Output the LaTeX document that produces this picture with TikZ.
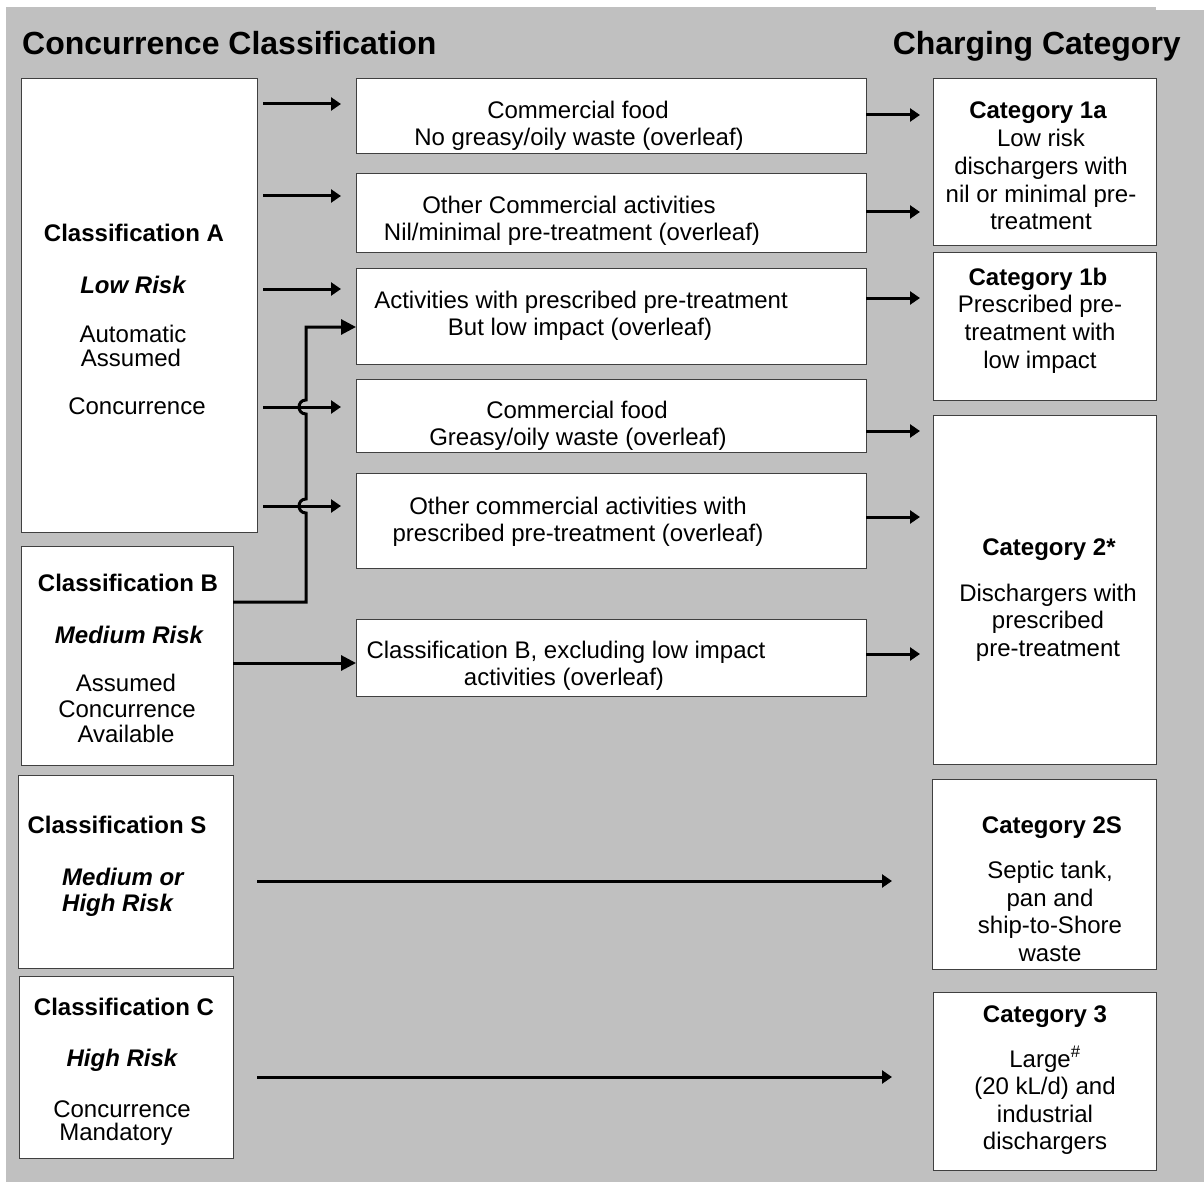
\documentclass[tikz,border=0pt]{standalone}
\usepackage{fontspec}
\setmainfont{Liberation Sans}
\usetikzlibrary{arrows.meta,calc}
\definecolor{bggray}{HTML}{C0C0C0}
\definecolor{boxline}{HTML}{404040}
\begin{document}
\begin{tikzpicture}[x=1pt,y=-1pt,
  box/.style={draw=boxline, line width=1pt, fill=white, anchor=north west, inner sep=0pt, outer sep=0pt},
  tx/.style={anchor=base, inner sep=0pt, font=\fontsize{24}{27}\selectfont},
  txb/.style={anchor=base, inner sep=0pt, font=\fontsize{24}{27}\selectfont\bfseries},
  txbi/.style={anchor=base, inner sep=0pt, font=\fontsize{24}{27}\selectfont\bfseries\itshape},
  hdr/.style={inner sep=0pt, font=\fontsize{32}{36}\selectfont\bfseries},
  arr/.style={line width=3pt, -{Triangle[length=10pt,width=13pt]}},
  bigarr/.style={line width=3pt, -{Triangle[length=15pt,width=15pt]}},
]
\useasboundingbox (0,0) rectangle (1204,1182);
\fill[white] (0,0) rectangle (1204,1182);
\fill[bggray] (6,7) rectangle (1204,1182);
\fill[white] (1156,7) rectangle (1204,10);

% headers
\node[hdr, anchor=base west] (h1) at (22,54.5) {Concurrence Classification};
\node[hdr, anchor=base east] (h2) at (1181,54.5) {Charging Category};

% left boxes
\node[box, minimum width=236pt, minimum height=453pt] (A) at (21,79) {};
\node[box, minimum width=212pt, minimum height=219pt] (B) at (21,546) {};
\node[box, minimum width=215pt, minimum height=193pt] (S) at (18,775) {};
\node[box, minimum width=214pt, minimum height=182pt] (C) at (19,976) {};

% middle boxes
\node[box, minimum width=510pt, minimum height=75pt] (M1) at (356,79) {};
\node[box, minimum width=510pt, minimum height=79pt] (M2) at (356,174) {};
\node[box, minimum width=510pt, minimum height=95pt] (M3) at (356,269) {};
\node[box, minimum width=510pt, minimum height=73pt] (M4) at (356,379) {};
\node[box, minimum width=510pt, minimum height=95pt] (M5) at (356,473) {};
\node[box, minimum width=510pt, minimum height=77pt] (M6) at (356,619) {};

% right boxes
\node[box, minimum width=223pt, minimum height=167pt] (K1a) at (933,79) {};
\node[box, minimum width=223pt, minimum height=147pt] (K1b) at (933,253) {};
\node[box, minimum width=223pt, minimum height=349pt] (K2) at (933,415) {};
\node[box, minimum width=224pt, minimum height=190pt] (K2S) at (932,779) {};
\node[box, minimum width=223pt, minimum height=178pt] (K3) at (933,992) {};

% texts: Classification A
\node[txb] (a1) at (134,242) {Classification A};
\node[txbi] (a2) at (133,293) {Low Risk};
\node[tx] (a3) at (133,342) {Automatic};
\node[tx] (a4) at (131,366) {Assumed};
\node[tx] (a5) at (137,414) {Concurrence};
% Classification B
\node[txb] (b1) at (128,591) {Classification B};
\node[txbi] (b2) at (129,643) {Medium Risk};
\node[tx] (b3) at (126,691) {Assumed};
\node[tx] (b4) at (127,717) {Concurrence};
\node[tx] (b5) at (126,742) {Available};
% Classification S
\node[txb] (s1) at (117,833) {Classification S};
\node[txbi, anchor=base west] (s2) at (62,885) {Medium or};
\node[txbi, anchor=base west] (s3) at (62,911) {High Risk};
% Classification C
\node[txb] (c1) at (124,1015) {Classification C};
\node[txbi] (c2) at (122,1066) {High Risk};
\node[tx] (c3) at (122,1117) {Concurrence};
\node[tx] (c4) at (116,1140) {Mandatory};

% middle texts
\node[tx] (m11) at (578,119) {Commercial food};
\node[tx] (m12) at (579,146) {No greasy/oily waste (overleaf)};
\node[tx] (m21) at (569,214) {Other Commercial activities};
\node[tx] (m22) at (572,241) {Nil/minimal pre-treatment (overleaf)};
\node[tx] (m31) at (581,308) {Activities with prescribed pre-treatment};
\node[tx] (m32) at (580,335) {But low impact (overleaf)};
\node[tx] (m41) at (577,418) {Commercial food};
\node[tx] (m42) at (578,445) {Greasy/oily waste (overleaf)};
\node[tx] (m51) at (578,514) {Other commercial activities with};
\node[tx] (m52) at (578,541) {prescribed pre-treatment (overleaf)};
\node[tx] (m61) at (566,658) {Classification B, excluding low impact};
\node[tx] (m62) at (564,685) {activities (overleaf)};

% right texts
\node[txb] (k11) at (1038,119) {Category 1a};
\node[tx] (k12) at (1041,147) {Low risk};
\node[tx] (k13) at (1041,175) {dischargers with};
\node[tx] (k14) at (1041,203) {nil or minimal pre-};
\node[tx] (k15) at (1041,230) {treatment};
\node[txb] (k21) at (1038,285) {Category 1b};
\node[tx] (k22) at (1040,312) {Prescribed pre-};
\node[tx] (k23) at (1040,340) {treatment with};
\node[tx] (k24) at (1040,368) {low impact};
\node[txb] (k31) at (1049,555) {Category 2*};
\node[tx] (k32) at (1048,601) {Dischargers with};
\node[tx] (k33) at (1048,628) {prescribed};
\node[tx] (k34) at (1048,656) {pre-treatment};
\node[txb] (k41) at (1052,833) {Category 2S};
\node[tx] (k42) at (1050,878) {Septic tank,};
\node[tx] (k43) at (1050,906) {pan and};
\node[tx] (k44) at (1050,933) {ship-to-Shore};
\node[tx] (k45) at (1050,961) {waste};
\node[txb] (k51) at (1045,1022) {Category 3};
\node[tx] (k52) at (1045,1067) {Large\textsuperscript{\#}};
\node[tx] (k53) at (1045,1094) {(20 kL/d) and};
\node[tx] (k54) at (1045,1122) {industrial};
\node[tx] (k55) at (1045,1149) {dischargers};

% arrow levels
\coordinate (y1) at (0,104);
\coordinate (y2) at (0,196);
\coordinate (y3) at (0,289);
\coordinate (y4) at (0,407);
\coordinate (y5) at (0,506);
\coordinate (r1) at (0,115);
\coordinate (r2) at (0,212);
\coordinate (r3) at (0,298);
\coordinate (r4) at (0,431);
\coordinate (r5) at (0,517);
\coordinate (r6) at (0,654);
\coordinate (ls) at (0,881);
\coordinate (lc) at (0,1077);
\coordinate (bm) at (0,663);
\coordinate (bj) at (306,602);
\coordinate (bt) at (306,327);
\coordinate (hA) at (306,407);
\coordinate (hB) at (306,506);

% B -> M3 elbow connector with hops
\draw[bigarr] (B.east |- bj) -- (bj)
  -- ($(hB)+(0,7)$) .. controls ($(hB)+(-9.3,7)$) and ($(hB)+(-9.3,-7)$) .. ($(hB)+(0,-7)$)
  -- ($(hA)+(0,7)$) .. controls ($(hA)+(-9.3,7)$) and ($(hA)+(-9.3,-7)$) .. ($(hA)+(0,-7)$)
  -- (bt) -- (M3.west |- bt);
\draw[bigarr] (B.east |- bm) -- (M6.west |- bm);

% A -> middle
\draw[arr, shorten <=6pt, shorten >=15pt] (A.east |- y1) -- (M1.west |- y1);
\draw[arr, shorten <=6pt, shorten >=15pt] (A.east |- y2) -- (M2.west |- y2);
\draw[arr, shorten <=6pt, shorten >=15pt] (A.east |- y3) -- (M3.west |- y3);
\draw[arr, shorten <=6pt, shorten >=15pt] (A.east |- y4) -- (M4.west |- y4);
\draw[arr, shorten <=6pt, shorten >=15pt] (A.east |- y5) -- (M5.west |- y5);

% middle -> right
\draw[arr, shorten >=13pt] (M1.east |- r1) -- (K1a.west |- r1);
\draw[arr, shorten >=13pt] (M2.east |- r2) -- (K1a.west |- r2);
\draw[arr, shorten >=13pt] (M3.east |- r3) -- (K1b.west |- r3);
\draw[arr, shorten >=13pt] (M4.east |- r4) -- (K2.west |- r4);
\draw[arr, shorten >=13pt] (M5.east |- r5) -- (K2.west |- r5);
\draw[arr, shorten >=13pt] (M6.east |- r6) -- (K2.west |- r6);

% long arrows
\draw[arr, shorten <=24pt, shorten >=40pt] (S.east |- ls) -- (K2S.west |- ls);
\draw[arr, shorten <=24pt, shorten >=41pt] (C.east |- lc) -- (K3.west |- lc);
\end{tikzpicture}
\end{document}
